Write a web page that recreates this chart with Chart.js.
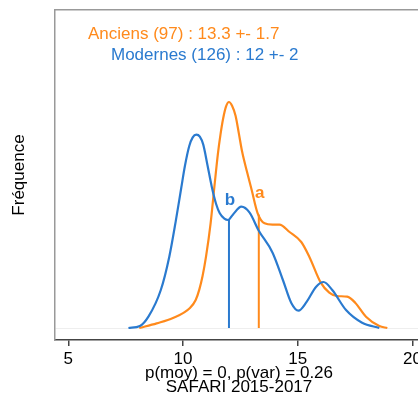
<!DOCTYPE html>
<html>
<head>
<meta charset="utf-8">
<script src="https://cdn.jsdelivr.net/npm/chart.js@4/dist/chart.umd.min.js"></script>
<style>
  html, body { margin: 0; padding: 0; background: #fff; overflow: hidden; }
  #wrap { position: absolute; left: 0; top: 0; width: 440px; height: 393px; }
</style>
</head>
<body>
<div id="wrap"><canvas id="chartCanvas" width="440" height="393"></canvas></div>
<script>
// density curves (x = age, y = density)
var modernesX = [7.62, 8.12, 8.49, 9.03, 9.4, 9.68, 9.92, 10.08, 10.27, 10.42, 10.58, 10.73, 10.88, 11.06, 11.25, 11.44, 11.6, 11.8, 11.96, 12.17, 12.54, 12.9, 13.28, 13.9, 14.35, 14.71, 15.03, 15.36, 15.8, 16.12, 16.5, 17.1, 17.8, 18.55];
var modernesY = [0, 0.003, 0.017, 0.057, 0.107, 0.16, 0.21, 0.243, 0.273, 0.286, 0.29, 0.287, 0.275, 0.245, 0.212, 0.186, 0.172, 0.164, 0.162, 0.17, 0.182, 0.173, 0.147, 0.113, 0.072, 0.038, 0.026, 0.038, 0.062, 0.069, 0.057, 0.027, 0.008, 0];
var anciensX = [8.09, 8.85, 9.56, 10.3, 10.55, 10.71, 10.85, 11.0, 11.2, 11.35, 11.52, 11.63, 11.74, 11.87, 12.0, 12.14, 12.29, 12.43, 12.57, 12.78, 12.99, 13.25, 13.55, 13.9, 14.2, 14.64, 15.15, 15.5, 16.0, 16.37, 16.7, 17.15, 17.5, 17.97, 18.55, 18.9];
var anciensY = [0, 0.007, 0.015, 0.03, 0.042, 0.058, 0.078, 0.107, 0.157, 0.207, 0.262, 0.29, 0.313, 0.332, 0.339, 0.333, 0.318, 0.292, 0.265, 0.235, 0.207, 0.172, 0.157, 0.155, 0.155, 0.144, 0.129, 0.107, 0.068, 0.053, 0.048, 0.047, 0.038, 0.017, 0.003, 0];

var moyennes = [13.3, 12];          // anciens, modernes
var hauteurMoy = [0.17, 0.162];     // density at the mean
var lettres = ['a', 'b'];
var legendes = ['Anciens (97) : 13.3 +- 1.7', 'Modernes (126) : 12 +- 2'];
var xTicks = [5, 10, 15, 20];
var sousTitre = ['p(moy) = 0, p(var) = 0.26', 'SAFARI 2015-2017'];

var orange = '#FF8A1C';
var bleu = '#2A7ACF';
var police = "'Liberation Sans', Arial, sans-serif";

function pts(xs, ys) {
    return xs.map(function (x, i) { return { x: x, y: ys[i] }; });
}

var textes = {
    id: 'textes',
    afterDraw: function (chart) {
        var c = chart.ctx;
        var xs = chart.scales.x, ys = chart.scales.y;
        c.save();
        c.font = '17px ' + police;
        c.textBaseline = 'alphabetic';
        c.textAlign = 'left';
        c.fillStyle = orange;
        c.fillText(legendes[0], 88, 39);
        c.fillStyle = bleu;
        c.fillText(legendes[1], 111, 60);

        c.font = 'bold 17px ' + police;
        c.textAlign = 'center';
        var couleurs = [orange, bleu];
        var decal = [17, 15];
        for (var i = 0; i < moyennes.length; i++) {
            c.fillStyle = couleurs[i];
            c.fillText(lettres[i], xs.getPixelForValue(moyennes[i]) + 1, ys.getPixelForValue(hauteurMoy[i]) - decal[i]);
        }

        c.font = '17px ' + police;
        c.fillStyle = '#000';
        c.fillText(sousTitre[0], 239, 378);
        c.fillText(sousTitre[1], 239, 392);
        c.restore();
    }
};

var ctx = document.getElementById('chartCanvas').getContext('2d');
var myChart = new Chart(ctx, {
    type: 'line',
    data: {
        datasets: [{
            label: 'Modernes',
            data: pts(modernesX, modernesY),
            borderColor: bleu,
            borderWidth: 2.2,
            pointRadius: 0,
            cubicInterpolationMode: 'monotone'
        }, {
            label: 'Anciens',
            data: pts(anciensX, anciensY),
            borderColor: orange,
            borderWidth: 2.2,
            pointRadius: 0,
            cubicInterpolationMode: 'monotone'
        }, {
            label: 'moy modernes',
            data: [{ x: moyennes[1], y: 0 }, { x: moyennes[1], y: hauteurMoy[1] }],
            borderColor: bleu,
            borderWidth: 2,
            pointRadius: 0
        }, {
            label: 'moy anciens',
            data: [{ x: moyennes[0], y: 0 }, { x: moyennes[0], y: hauteurMoy[0] }],
            borderColor: orange,
            borderWidth: 2,
            pointRadius: 0
        }]
    },
    options: {
        responsive: false,
        animation: false,
        layout: { padding: 0 },
        plugins: {
            legend: { display: false },
            tooltip: { enabled: false }
        },
        scales: {
            x: {
                type: 'linear',
                position: 'bottom',
                min: 4.42,
                max: 21.195,
                afterBuildTicks: function (scale) {
                    scale.ticks = xTicks.map(function (v) { return { value: v }; });
                },
                afterFit: function (scale) { scale.height = 53; },
                ticks: {
                    color: '#000',
                    font: { size: 17, family: police },
                    padding: 3,
                    maxRotation: 0,
                    autoSkip: false
                },
                grid: { drawOnChartArea: false, drawTicks: true, tickLength: 6, color: '#444', lineWidth: 1.5 },
                border: { display: true, color: '#444', width: 1.5 }
            },
            xTop: {
                type: 'linear',
                position: 'top',
                min: 4.42,
                max: 21.195,
                afterFit: function (scale) { scale.height = 10; },
                ticks: { display: false },
                grid: { display: false },
                border: { display: true, color: '#999', width: 1.5 }
            },
            y: {
                type: 'linear',
                min: -0.018,
                max: 0.477,
                afterBuildTicks: function (scale) {
                    scale.ticks = [{ value: 0 }];
                },
                afterFit: function (scale) { scale.width = 55; },
                ticks: { display: false },
                grid: { drawTicks: false, color: '#eeeeee', lineWidth: 1 },
                border: { display: true, color: '#999', width: 1.5 },
                title: {
                    display: true,
                    text: 'Fréquence',
                    color: '#000',
                    font: { size: 17, family: police },
                    padding: { top: 9, bottom: 0 }
                }
            }
        }
    },
    plugins: [textes]
});
</script>
</body>
</html>
